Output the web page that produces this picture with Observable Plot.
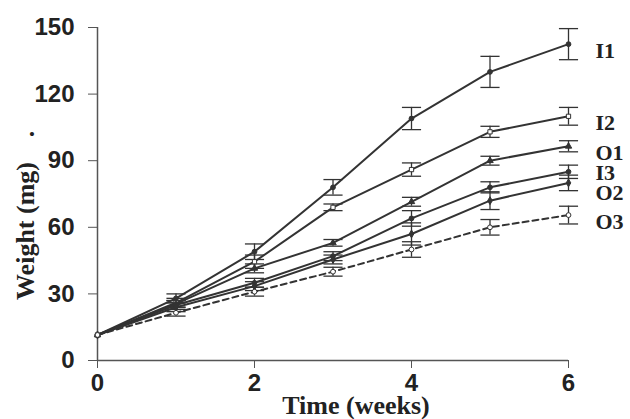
<!DOCTYPE html>
<html><head><meta charset="utf-8">
<script src="https://cdn.jsdelivr.net/npm/d3@7"></script>
<script src="https://cdn.jsdelivr.net/npm/@observablehq/plot@0.6"></script>
<style>
html,body{margin:0;padding:0;background:#fff;}
#chart{position:relative;width:630px;height:419px;}
</style>
</head><body>
<div id="chart"></div>
<script>
const weeks = [0, 1, 2, 3, 4, 5, 6];
const seriesNames = ["I1", "I2", "O1", "I3", "O2", "O3"];
const I1 = [11.5, 28, 49, 78, 109, 130, 142.5];
const I2 = [11.5, 26, 44.5, 69, 86, 103, 110];
const O1 = [11.5, 25.5, 41.5, 53, 71.5, 90, 96.5];
const I3 = [11.5, 25, 35, 47, 64, 78, 85];
const O2 = [11.5, 24, 33.5, 45.5, 57, 72, 80];
const O3 = [11.5, 21.5, 31, 40, 50, 60, 65.5];
const I1err = [0, 2, 3.5, 3.5, 5, 7, 7];
const I2err = [0, 2, 3, 1.5, 3, 2.5, 4];
const O1err = [0, 1.5, 2, 1.5, 2, 2, 2.5];
const I3err = [0, 2, 2, 2, 3.5, 2.5, 3];
const O2err = [0, 2, 2, 2, 5, 4, 3.5];
const O3err = [0, 1.5, 2, 2, 3.5, 3.5, 4];
const xTicks = [0, 2, 4, 6];
const yTicks = [0, 30, 60, 90, 120, 150];

const values = {I1, I2, O1, I3, O2, O3};
const errs = {I1: I1err, I2: I2err, O1: O1err, I3: I3err, O2: O2err, O3: O3err};
const rows = [];
for (const s of seriesNames) weeks.forEach((w, i) => rows.push({series: s, week: w, value: values[s][i], err: errs[s][i]}));
const lastRows = rows.filter(d => d.week === 6);
const errRows = rows.filter(d => d.err > 0);

const hline = {draw(ctx, size) { const r = Math.sqrt(size) * 0.9; ctx.moveTo(-r, 0); ctx.lineTo(r, 0); }};
const symbolFor = {I1: "circle", I2: "square", O1: "triangle", I3: "circle", O2: "diamond", O3: "circle"};
const fillFor = {I1: "#333", I2: "white", O1: "#333", I3: "#333", O2: "#333", O3: "white"};
const labelDy = {I1: 0, I2: 0, O1: 0, I3: -6, O2: 3, O3: 0};

const marks = [
  Plot.ruleX([0], {stroke: "#555", strokeWidth: 1.5}),
  Plot.ruleY([0], {stroke: "#555", strokeWidth: 1.5}),
  Plot.axisX({ticks: xTicks, tickFormat: d3.format("d"), tickSize: 8, tickPadding: 5, label: null, stroke: "#555", fontSize: 24}),
  Plot.axisY({ticks: yTicks, tickFormat: d3.format("d"), tickSize: 9, tickPadding: 14, label: null, stroke: "#555", fontSize: 24}),
  Plot.ruleX(errRows, {x: "week", y1: d => d.value - d.err, y2: d => d.value + d.err, stroke: "#333", strokeWidth: 1.3}),
  Plot.dot(errRows, {x: "week", y: d => d.value - d.err, symbol: hline, r: 6, stroke: "#333", strokeWidth: 1.3}),
  Plot.dot(errRows, {x: "week", y: d => d.value + d.err, symbol: hline, r: 6, stroke: "#333", strokeWidth: 1.3})
];
for (const s of seriesNames) {
  const data = rows.filter(d => d.series === s);
  marks.push(Plot.line(data, {x: "week", y: "value", stroke: "#333", strokeWidth: 2, strokeDasharray: s === "O3" ? "6,4" : null}));
  marks.push(Plot.dot(data, {x: "week", y: "value", symbol: symbolFor[s], r: 2.4, fill: fillFor[s], stroke: "#333", strokeWidth: 1}));
}
marks.push(Plot.text(lastRows, {x: "week", y: "value", text: "series", textAnchor: "start", dx: 27,
  fontFamily: "Liberation Serif", fontWeight: "bold", fontSize: 22, fill: "#222"}));

const plot = Plot.plot({
  width: 630, height: 419,
  marginLeft: 97, marginRight: 62, marginTop: 27, marginBottom: 59,
  x: {domain: [0, 6]},
  y: {domain: [0, 150]},
  style: {fontFamily: "Liberation Sans", fontWeight: "bold", color: "#222", background: "white"},
  marks
});
const chart = document.getElementById("chart");
chart.appendChild(plot);
plot.querySelectorAll("text").forEach(t => {
  const s = t.textContent;
  if (labelDy[s] !== undefined) {
    t.setAttribute("dy", (labelDy[s] + 7) + "px");
  }
});
const ns = "http://www.w3.org/2000/svg";
function addText(txt, x, y, rot, size, anchor) {
  const t = document.createElementNS(ns, "text");
  t.textContent = txt;
  t.setAttribute("x", x); t.setAttribute("y", y);
  t.setAttribute("text-anchor", anchor || "middle");
  t.setAttribute("font-family", "Liberation Serif");
  t.setAttribute("font-weight", "bold");
  t.setAttribute("font-size", size);
  t.setAttribute("fill", "#222");
  if (rot) t.setAttribute("transform", `rotate(-90 ${x} ${y})`);
  plot.appendChild(t);
}
addText("Time (weeks)", 356, 414, false, 26);
addText("Weight (mg)", 34, 231, true, 26);
addText(".", 34, 134, true, 26);
</script>
</body></html>
